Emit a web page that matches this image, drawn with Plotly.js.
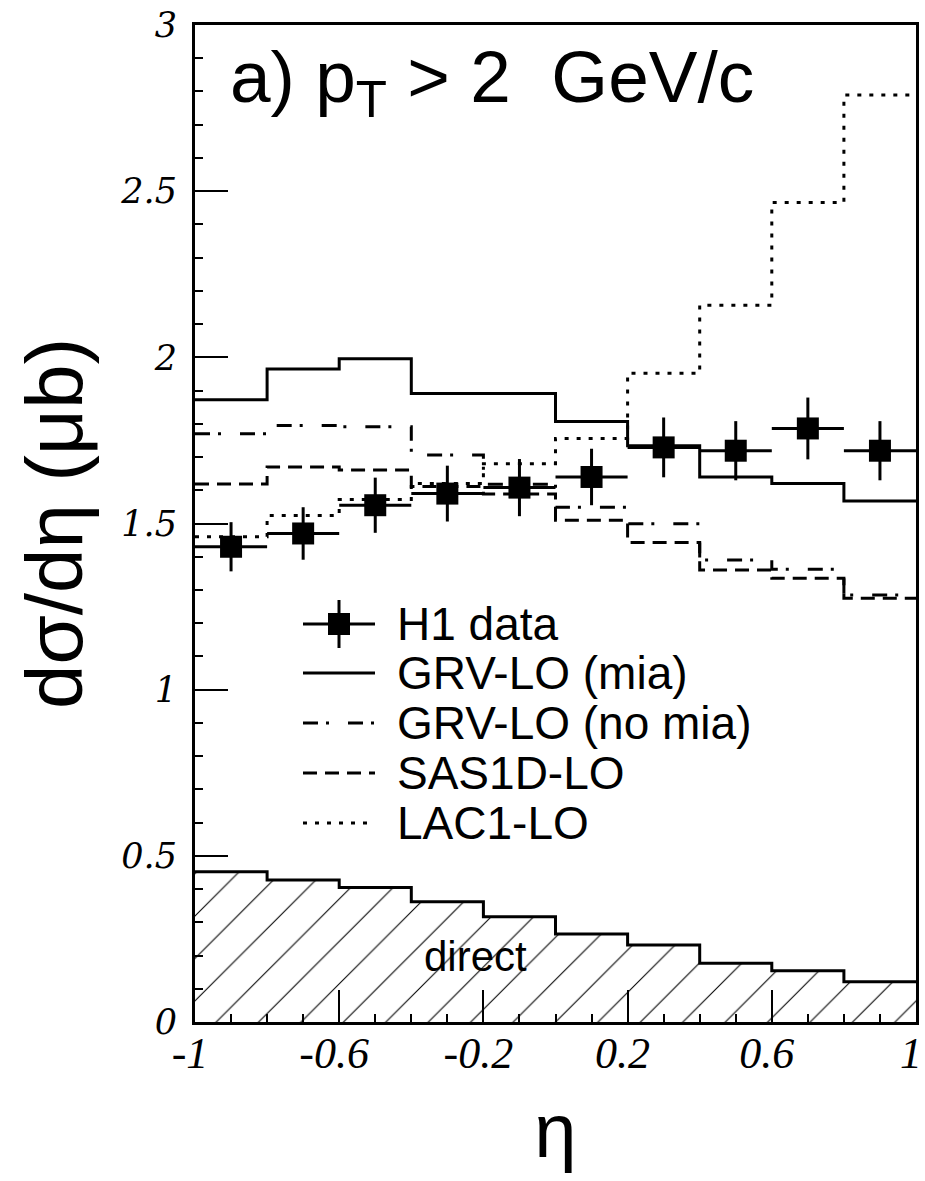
<!DOCTYPE html>
<html>
<head>
<meta charset="utf-8">
<script src="https://cdn.plot.ly/plotly-3.0.1.min.js"></script>
<style>html,body{margin:0;padding:0;background:#fff;}</style>
</head>
<body>
<div id="chart" style="width:925px;height:1181px;"></div>
<script>
// ---- data ----
const binEdges   = [-1, -0.8, -0.6, -0.4, -0.2, 0, 0.2, 0.4, 0.6, 0.8, 1];
const etaCenters = [-0.9, -0.7, -0.5, -0.3, -0.1, 0.1, 0.3, 0.5, 0.7, 0.9];
const h1Data     = [1.430, 1.470, 1.555, 1.590, 1.608, 1.640, 1.729, 1.719, 1.786, 1.719];
const h1Err      = [0.074, 0.079, 0.083, 0.084, 0.086, 0.085, 0.090, 0.089, 0.093, 0.089];
const grvMia     = [1.872, 1.965, 1.996, 1.891, 1.891, 1.807, 1.734, 1.640, 1.620, 1.568];
const grvNoMia   = [1.770, 1.795, 1.791, 1.706, 1.618, 1.549, 1.499, 1.390, 1.362, 1.285];
const sas1d      = [1.619, 1.670, 1.661, 1.611, 1.589, 1.510, 1.443, 1.360, 1.335, 1.275];
const lac1       = [1.460, 1.524, 1.572, 1.620, 1.680, 1.756, 1.952, 2.157, 2.466, 2.789];
const direct     = [0.452, 0.427, 0.405, 0.362, 0.317, 0.265, 0.232, 0.177, 0.154, 0.121];
const xTickVals  = [-1, -0.6, -0.2, 0.2, 0.6, 1];
const xTickText  = ['-1', '-0.6', '-0.2', '0.2', '0.6', '1'];
const xMidTicks  = [-0.8, -0.4, 0, 0.4, 0.8];
const legendNames = ['H1 data', 'GRV-LO (mia)', 'GRV-LO (no mia)', 'SAS1D-LO', 'LAC1-LO'];

// ---- helpers ----
function stepY(v) { return v.concat([v[v.length - 1]]); }
const W = 925, H = 1181, ML = 195, MR = 9, MT = 25, MB = 159;
const PW = W - ML - MR, PH = H - MT - MB;
function px(x) { return (x - ML) / PW; }
function py(y) { return (H - MB - y) / PH; }

const DASH  = '14px,8px';
const DDOT  = '15px,8px,3px,19px';
const DOT   = '4px,8px';

function stepTrace(vals, dash, name) {
  return {
    x: binEdges, y: stepY(vals), type: 'scatter', mode: 'lines', name: name,
    line: {shape: 'hv', color: '#000', width: 3, dash: dash},
    showlegend: false, hoverinfo: 'skip'
  };
}

const traces = [
  {
    x: binEdges, y: stepY(direct), type: 'scatter', mode: 'lines', name: 'direct',
    line: {shape: 'hv', color: '#000', width: 3},
    fill: 'tozeroy', fillcolor: 'rgba(255,255,255,0)',
    fillpattern: {shape: '/', size: 30, solidity: 0.035, fgcolor: '#000', bgcolor: 'rgba(255,255,255,0)'},
    showlegend: false, hoverinfo: 'skip'
  },
  stepTrace(grvMia, 'solid', legendNames[1]),
  stepTrace(grvNoMia, DDOT, legendNames[2]),
  stepTrace(sas1d, DASH, legendNames[3]),
  stepTrace(lac1, DOT, legendNames[4]),
  {
    x: etaCenters, y: h1Data, type: 'scatter', mode: 'markers', name: legendNames[0],
    marker: {symbol: 'square', size: 22, color: '#000'},
    error_y: {type: 'data', array: h1Err, visible: true, color: '#000', thickness: 3, width: 0},
    error_x: {type: 'constant', value: 0.1, visible: true, color: '#000', thickness: 3, width: 0},
    showlegend: false
  }
];

// ---- manual legend (decoration) ----
const legX0 = 303, legX1 = 375, legTextX = 395;
const legRows = [624, 673, 723, 773, 823];
const legDash = [null, 'solid', DDOT, DASH, DOT];
const shapes = [];
const annotations = [];
for (let i = 0; i < legendNames.length; i++) {
  const yy = legRows[i];
  if (i === 0) {
    shapes.push({type: 'line', xref: 'paper', yref: 'paper', x0: px(legX0), x1: px(legX1), y0: py(yy), y1: py(yy), line: {color: '#000', width: 3}});
    shapes.push({type: 'line', xref: 'paper', yref: 'paper', x0: px(339), x1: px(339), y0: py(yy - 24), y1: py(yy + 24), line: {color: '#000', width: 3}});
    shapes.push({type: 'rect', xref: 'paper', yref: 'paper', x0: px(328), x1: px(350), y0: py(yy - 11), y1: py(yy + 11), fillcolor: '#000', line: {width: 0}});
  } else {
    shapes.push({type: 'line', xref: 'paper', yref: 'paper', x0: px(legX0), x1: px(legX1), y0: py(yy), y1: py(yy), line: {color: '#000', width: 3, dash: legDash[i]}});
  }
  annotations.push({
    text: legendNames[i], xref: 'paper', yref: 'paper', x: px(legTextX), y: py(yy),
    xanchor: 'left', yanchor: 'middle', showarrow: false,
    font: {family: 'Liberation Sans, Arial, sans-serif', size: 46, color: '#000'}
  });
}
annotations.push({
  text: 'a) p<sub>T</sub> > 2 \u00a0GeV/c', xref: 'paper', yref: 'paper',
  x: px(228), y: py(82), xanchor: 'left', yanchor: 'middle', showarrow: false,
  font: {family: 'Liberation Sans, Arial, sans-serif', size: 73, color: '#000'}
});
annotations.push({
  text: 'direct', xref: 'paper', yref: 'paper',
  x: px(475), y: py(956), xanchor: 'center', yanchor: 'middle', showarrow: false,
  font: {family: 'Liberation Sans, Arial, sans-serif', size: 42, color: '#000'}
});

const layout = {
  width: W, height: H,
  margin: {l: ML, r: MR, t: MT, b: MB, pad: 0},
  paper_bgcolor: '#fff', plot_bgcolor: '#fff',
  showlegend: false,
  xaxis: {
    range: [-1, 1], showgrid: false, zeroline: false,
    showline: true, linecolor: '#000', linewidth: 3, mirror: true,
    ticks: 'inside', ticklen: 32, tickwidth: 2, tickcolor: '#000',
    tickmode: 'array', tickvals: xTickVals, ticktext: xTickText,
    minor: {tickmode: 'linear', tick0: -1, dtick: 0.1, ticks: 'inside', ticklen: 8, tickwidth: 2, tickcolor: '#000', showgrid: false},
    tickfont: {family: 'Liberation Serif, Times New Roman, serif', size: 44, style: 'italic', color: '#000'},
    ticklabelstandoff: -10,
    ticklabelshift: -5,
    ticklabeloverflow: 'allow',
    title: {text: 'η', font: {family: 'Liberation Sans, Arial, sans-serif', size: 76, color: '#000'}, standoff: 28},
    automargin: false
  },
  xaxis2: {
    range: [-1, 1], overlaying: 'x', anchor: 'y', side: 'bottom',
    showgrid: false, zeroline: false, showline: false, showticklabels: false,
    ticks: 'inside', ticklen: 16, tickwidth: 2, tickcolor: '#000',
    tickmode: 'array', tickvals: xMidTicks
  },
  yaxis: {
    range: [0, 3], showgrid: false, zeroline: false,
    showline: true, linecolor: '#000', linewidth: 3, mirror: true,
    ticks: 'inside', ticklen: 33, tickwidth: 2, tickcolor: '#000',
    tick0: 0, dtick: 0.5,
    minor: {tick0: 0, dtick: 0.1, ticks: 'inside', ticklen: 8, tickwidth: 2, tickcolor: '#000', showgrid: false},
    tickfont: {family: 'DejaVu Serif, serif', size: 35, style: 'italic', color: '#000'},
    ticklabelstandoff: 8,
    ticklabeloverflow: 'allow',
    title: {text: 'dσ/dη (μb)', font: {family: 'Liberation Sans, Arial, sans-serif', size: 80, color: '#000'}, standoff: 12},
    automargin: false
  },
  shapes: shapes,
  annotations: annotations
};

Plotly.newPlot('chart', traces, layout, {displayModeBar: false, staticPlot: true});
</script>
</body>
</html>
